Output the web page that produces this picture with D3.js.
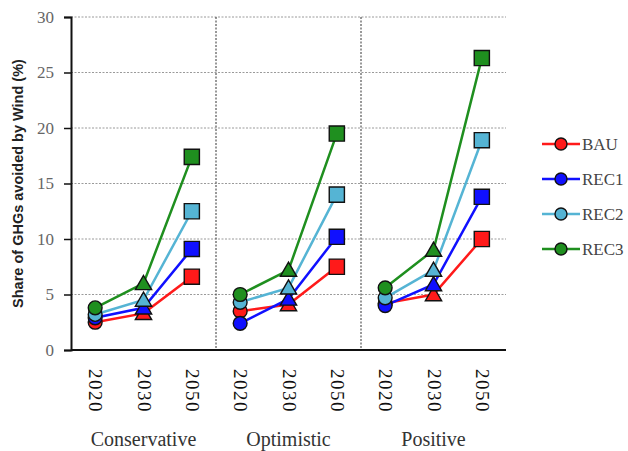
<!DOCTYPE html>
<html>
<head>
<meta charset="utf-8">
<script src="https://cdn.jsdelivr.net/npm/d3@7"></script>
<style>
  body { margin: 0; background: #fff; }
  svg { display: block; }
</style>
</head>
<body>
<svg id="chart"></svg>
<script>
const scenarios = ['Conservative', 'Optimistic', 'Positive'];
const years = ['2020', '2030', '2050'];
const seriesNames = ['BAU', 'REC1', 'REC2', 'REC3'];
const seriesColors = ['#ff1a1a', '#1010ff', '#55b4d4', '#1f8f1f'];
const yTicks = [0, 5, 10, 15, 20, 25, 30];

// values per series, per scenario (2020, 2030, 2050)
const bau = [[2.5, 3.3, 6.6], [3.5, 4.1, 7.5], [4.2, 5.0, 10.0]];
const rec1 = [[2.9, 3.8, 9.1], [2.4, 4.6, 10.2], [4.0, 5.9, 13.8]];
const rec2 = [[3.2, 4.5, 12.5], [4.3, 5.6, 14.0], [4.7, 7.2, 18.9]];
const rec3 = [[3.8, 6.0, 17.4], [5.0, 7.2, 19.5], [5.6, 9.0, 26.3]];
const seriesValues = [bau, rec1, rec2, rec3];

const width = 628;
const height = 451;
const margin = { top: 17, left: 71, bottom: 101, right: 122 };

const svg = d3.select('#chart').attr('width', width).attr('height', height);

const xPanel = d3.scaleBand()
  .domain(scenarios)
  .range([margin.left, width - margin.right])
  .padding(0);

const xYear = d3.scalePoint()
  .domain(years)
  .range([0, xPanel.bandwidth()])
  .padding(0.5);

const yScale = d3.scaleLinear()
  .domain([0, 30])
  .range([height - margin.bottom, margin.top]);

// horizontal gridlines
svg.append('g')
  .selectAll('line')
  .data(yTicks.filter(d => d > 0))
  .join('line')
  .attr('x1', margin.left)
  .attr('x2', width - margin.right)
  .attr('y1', d => yScale(d))
  .attr('y2', d => yScale(d))
  .attr('stroke', '#9a9a9a')
  .attr('stroke-width', 1)
  .attr('stroke-dasharray', '2,1.5');

// panel separators
svg.append('g')
  .selectAll('line')
  .data(scenarios.slice(1))
  .join('line')
  .attr('x1', d => xPanel(d))
  .attr('x2', d => xPanel(d))
  .attr('y1', yScale(30))
  .attr('y2', yScale(0))
  .attr('stroke', '#333')
  .attr('stroke-width', 1)
  .attr('stroke-dasharray', '2,1.5');

// y axis
const axisY = d3.axisLeft(yScale).tickValues(yTicks).tickSize(7).tickPadding(10);
const gy = svg.append('g')
  .attr('transform', `translate(${margin.left},0)`)
  .call(axisY);
gy.select('.domain').attr('stroke', '#111').attr('stroke-width', 2);
gy.selectAll('.tick line').attr('stroke', '#111').attr('stroke-width', 1.5);
gy.selectAll('.tick text')
  .attr('font-family', '"Liberation Serif", "Times New Roman", serif')
  .attr('font-size', 17)
  .attr('fill', '#666');

// x baseline
svg.append('line')
  .attr('x1', margin.left)
  .attr('x2', width - margin.right)
  .attr('y1', yScale(0))
  .attr('y2', yScale(0))
  .attr('stroke', '#111')
  .attr('stroke-width', 2);

// y title
svg.append('text')
  .attr('transform', `translate(23,${yScale(15)}) rotate(-90)`)
  .attr('text-anchor', 'middle')
  .attr('font-family', '"Liberation Sans", Arial, sans-serif')
  .attr('font-weight', 'bold')
  .attr('font-size', 14.5)
  .attr('fill', '#222')
  .text('Share of GHGs avoided by Wind (%)');

// year tick labels and panel labels
scenarios.forEach((s) => {
  const g = svg.append('g').attr('transform', `translate(${xPanel(s)},0)`);
  g.selectAll('text.year')
    .data(years)
    .join('text')
    .attr('class', 'year')
    .attr('transform', d => `translate(${xYear(d) - 6},369) rotate(90)`)
    .attr('text-anchor', 'start')
    .attr('font-family', '"Liberation Serif", "Times New Roman", serif')
    .attr('font-size', 19)
    .attr('letter-spacing', 1.5)
    .attr('fill', '#111')
    .text(d => d);
  g.append('text')
    .attr('x', xPanel.bandwidth() / 2)
    .attr('y', 446)
    .attr('text-anchor', 'middle')
    .attr('font-family', '"Liberation Serif", "Times New Roman", serif')
    .attr('font-size', 20)
    .attr('fill', '#333')
    .text(s);
});

// series lines and markers
const line = d3.line()
  .x(d => d.x)
  .y(d => yScale(d.v));

const symbolFor = [d3.symbolCircle, d3.symbolTriangle, d3.symbolSquare];
const symbolSize = [150, 115, 230];

scenarios.forEach((s, si) => {
  const g = svg.append('g').attr('transform', `translate(${xPanel(s)},0)`);
  seriesNames.forEach((name, ki) => {
    const pts = years.map((y, yi) => ({ x: xYear(y), v: seriesValues[ki][si][yi], yi }));
    g.append('path')
      .datum(pts)
      .attr('fill', 'none')
      .attr('stroke', seriesColors[ki])
      .attr('stroke-width', 2.5)
      .attr('d', line);
  });
  seriesNames.forEach((name, ki) => {
    const pts = years.map((y, yi) => ({ x: xYear(y), v: seriesValues[ki][si][yi], yi }));
    g.selectAll(null)
      .data(pts)
      .join('path')
      .attr('transform', d => `translate(${d.x},${yScale(d.v) + (d.yi === 1 ? 1.5 : 0)})`)
      .attr('d', d => d3.symbol().type(symbolFor[d.yi]).size(symbolSize[d.yi])())
      .attr('fill', seriesColors[ki])
      .attr('stroke', '#111')
      .attr('stroke-width', 1.4);
  });
});

// legend
const legend = svg.append('g').attr('transform', 'translate(542,144)');
const rows = legend.selectAll('g')
  .data(seriesNames)
  .join('g')
  .attr('transform', (d, i) => `translate(0,${i * 35})`);
rows.append('line')
  .attr('x1', 0).attr('x2', 38)
  .attr('stroke', (d, i) => seriesColors[i])
  .attr('stroke-width', 2.5);
rows.append('circle')
  .attr('cx', 19).attr('r', 6)
  .attr('fill', (d, i) => seriesColors[i])
  .attr('stroke', '#111')
  .attr('stroke-width', 1.4);
rows.append('text')
  .attr('x', 40)
  .attr('y', 6)
  .attr('font-family', '"Liberation Serif", "Times New Roman", serif')
  .attr('font-size', 17)
  .attr('fill', '#444')
  .text(d => d);
</script>
</body>
</html>
